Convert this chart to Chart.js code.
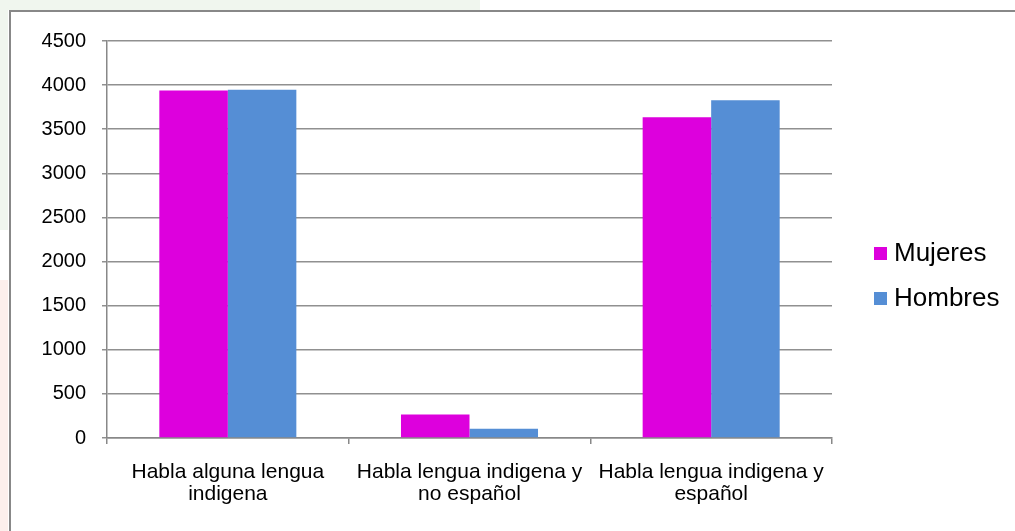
<!DOCTYPE html>
<html>
<head>
<meta charset="utf-8">
<script src="https://cdn.jsdelivr.net/npm/chart.js@4/dist/chart.umd.min.js"></script>
<style>
  html, body { margin: 0; padding: 0; background: #fff; }
  #wrap { width: 1015px; height: 531px; position: relative; }
</style>
</head>
<body>
<div id="wrap"><canvas id="myChart" width="1015" height="531"></canvas></div>
<script>
let categories = [
    ["Habla alguna lengua", "indigena"],
    ["Habla lengua indigena y", "no español"],
    ["Habla lengua indigena y", "español"]
];
let mujeres = [3940, 265, 3635];
let hombres = [3948, 105, 3828];
let seriesNames = ["Mujeres", "Hombres"];
let seriesColors = ["#dd00dd", "#558ed5"];

const FONT = "'Liberation Sans', Arial, sans-serif";

// background decoration + frame around the chart
const frame = {
    id: "frame",
    beforeDraw(chart) {
        const c = chart.ctx;
        c.save();
        c.fillStyle = "#ffffff";
        c.fillRect(0, 0, chart.width, chart.height);
        // faint strips outside the frame
        c.fillStyle = "#f0f6ee";
        c.fillRect(0, 0, 480, 10);
        c.fillRect(0, 0, 8, 230);
        c.fillStyle = "#fcefec";
        c.fillRect(0, 280, 8, 251);
        c.strokeStyle = "#888888";
        c.lineWidth = 2;
        c.strokeRect(10, 11, chart.width + 20, chart.height + 20);
        c.restore();
    }
};

// legend drawn on the right, as in the picture
const sideLegend = {
    id: "sideLegend",
    afterDraw(chart) {
        const c = chart.ctx;
        c.save();
        c.font = "26px " + FONT;
        c.textBaseline = "middle";
        c.textAlign = "left";
        chart.data.datasets.forEach((ds, i) => {
            let y = 253 + i * 45;
            c.fillStyle = ds.backgroundColor;
            c.fillRect(874, y - 6, 13, 13);
            c.fillStyle = "#000";
            c.fillText(ds.label, 894, y + 1);
        });
        c.restore();
    }
};

const ctx = document.getElementById("myChart");

let chart = new Chart(ctx, {
    type: "bar",
    data: {
        labels: categories,
        datasets: [
            { label: seriesNames[0], data: mujeres, backgroundColor: seriesColors[0] },
            { label: seriesNames[1], data: hombres, backgroundColor: seriesColors[1] }
        ]
    },
    options: {
        responsive: false,
        animation: false,
        layout: { padding: { top: 41, left: 0, right: 183, bottom: 0 } },
        categoryPercentage: 0.567,
        barPercentage: 1,
        plugins: {
            legend: { display: false },
            tooltip: { enabled: false }
        },
        scales: {
            x: {
                afterFit: (scale) => { scale.height = 93; },
                grid: { drawOnChartArea: false, drawTicks: true, tickLength: 6, color: "#888888", lineWidth: 1.5 },
                border: { display: true, color: "#888888", width: 1.5 },
                ticks: { color: "#000", padding: 17, font: { family: FONT, size: 21, lineHeight: 1.05 } }
            },
            y: {
                min: 0,
                max: 4500,
                afterFit: (scale) => { scale.width = 107; },
                grid: { color: "#909090", lineWidth: 1.5, drawTicks: true, tickLength: 5 },
                border: { display: true, color: "#888888", width: 1.5 },
                ticks: {
                    stepSize: 500,
                    color: "#000",
                    padding: 16,
                    font: { family: FONT, size: 20 },
                    callback: (v) => String(v)
                }
            }
        }
    },
    plugins: [frame, sideLegend]
});
</script>
</body>
</html>
